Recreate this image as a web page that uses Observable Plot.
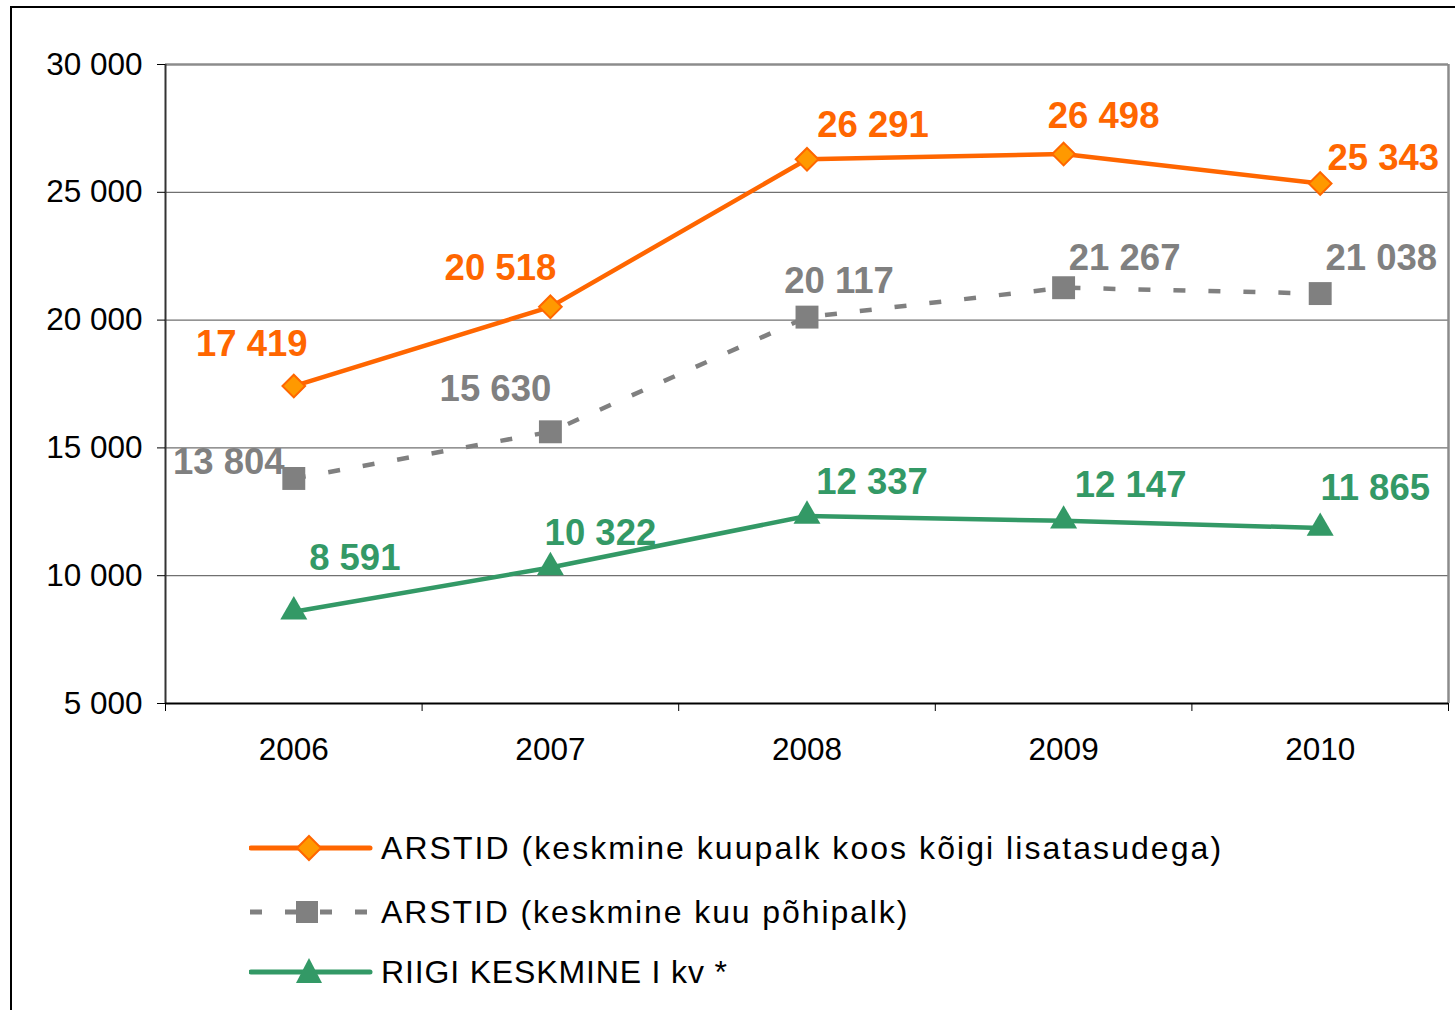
<!DOCTYPE html>
<html>
<head>
<meta charset="utf-8">
<script src="https://cdn.jsdelivr.net/npm/d3@7"></script>
<script src="https://cdn.jsdelivr.net/npm/@observablehq/plot@0.6"></script>
<style>
  html, body { margin: 0; padding: 0; background: #fff; overflow: hidden; }
  body { width: 1455px; height: 1010px; position: relative; font-family: "Liberation Sans", Arial, sans-serif; }
  #frame { position: absolute; left: 10px; top: 6px; width: 1600px; height: 1200px; border-left: 2px solid #000; border-top: 2px solid #000; }
  #chart { position: absolute; left: 0; top: 0; }
  .leg { position: absolute; left: 249px; height: 40px; display: flex; align-items: center; }
  .leg span { font-size: 32px; color: #000; margin-left: 8px; white-space: nowrap; }
</style>
</head>
<body>
<div id="frame"></div>
<div id="chart"></div>
<div id="legend"></div>
<script>
const years = [2006, 2007, 2008, 2009, 2010];
const arstidTotal = [17419, 20518, 26291, 26498, 25343];
const arstidBase = [13804, 15630, 20117, 21267, 21038];
const riigiKeskmine = [8591, 10322, 12337, 12147, 11865];
const seriesNames = [
  "ARSTID (keskmine kuupalk koos kõigi lisatasudega)",
  "ARSTID (keskmine kuu põhipalk)",
  "RIIGI KESKMINE I kv *"
];
const yTicks = [5000, 10000, 15000, 20000, 25000, 30000];

// styling / label placement (not data)
const colors = { total: "#ff6600", totalFill: "#ff9900", base: "#808080", riik: "#339966" };
const labelOffsets = {
  total: [[-42, -42], [-50, -39], [66, -34], [40, -38], [63, -25]],
  base:  [[-65, -16], [-55, -42], [32, -36], [61, -29], [61, -35]],
  riik:  [[61, -53], [50, -34], [65, -34], [67, -36], [55, -40]]
};

const fmt = v => d3.format(",")(v).replace(/,/g, " ");
const mk = vals => years.map((y, i) => ({ year: y, value: vals[i] }));
const dTotal = mk(arstidTotal), dBase = mk(arstidBase), dRiik = mk(riigiKeskmine);
const bounds = [years[0] - 0.5, ...years.map(y => y + 0.5)];

function labels(data, key, color) {
  return data.map((d, i) => Plot.text([d], {
    x: "year", y: "value", text: dd => fmt(dd.value),
    dx: labelOffsets[key][i][0], dy: labelOffsets[key][i][1],
    fill: color, fontSize: 36.5, fontWeight: "bold", textAnchor: "middle"
  }));
}

const chart = Plot.plot({
  width: 1455, height: 790,
  marginTop: 64, marginLeft: 165, marginRight: 7, marginBottom: 87,
  style: { fontFamily: "Liberation Sans, Arial, sans-serif", background: "transparent" },
  x: { type: "linear", domain: [bounds[0], bounds[bounds.length - 1]] },
  y: { domain: [5000, 30000] },
  marks: [
    Plot.ruleY(yTicks.slice(1, -1), { stroke: "#707070", strokeWidth: 1.3 }),
    Plot.ruleY([30000], { stroke: "#8c8c8c", strokeWidth: 2.5 }),
    Plot.ruleX([bounds[bounds.length - 1]], { stroke: "#8c8c8c", strokeWidth: 2.5 }),
    Plot.ruleX([bounds[0]], { stroke: "#333", strokeWidth: 2 }),
    Plot.ruleY([5000], { stroke: "#000", strokeWidth: 2 }),
    Plot.axisY({ ticks: yTicks, tickSize: 8, tickPadding: 15, tickFormat: fmt, fontSize: 31.5, label: null, stroke: "#000", fill: "#000" }),
    Plot.axisX({ ticks: bounds, tickSize: 8, tickFormat: () => "", label: null, stroke: "#000" }),
    Plot.axisX({ ticks: years, tickSize: 0, tickPadding: 34, tickFormat: d => String(d), fontSize: 31.5, label: null, fill: "#000" }),
    Plot.line(dTotal, { x: "year", y: "value", stroke: colors.total, strokeWidth: 4.5 }),
    Plot.dot(dTotal, { x: "year", y: "value", symbol: "diamond2", r: 10.2, fill: colors.totalFill, stroke: colors.total, strokeWidth: 2 }),
    Plot.line(dBase, { x: "year", y: "value", stroke: colors.base, strokeWidth: 4.5, strokeDasharray: "12,23", strokeLinecap: "butt" }),
    Plot.dot(dBase, { x: "year", y: "value", symbol: "square2", r: 14.6, fill: colors.base, stroke: "none" }),
    Plot.line(dRiik, { x: "year", y: "value", stroke: colors.riik, strokeWidth: 4.5 }),
    Plot.dot(dRiik, { x: "year", y: "value", symbol: "triangle2", r: 12.9, fill: colors.riik, stroke: "none" }),
    ...labels(dTotal, "total", colors.total),
    ...labels(dBase, "base", colors.base),
    ...labels(dRiik, "riik", colors.riik)
  ]
});
document.getElementById("chart").appendChild(chart);

// Legend (HTML below the SVG)
const legendRows = [
  { name: seriesNames[0], top: 828, ls: 2.05, svg: `<line x1="2" y1="20" x2="121" y2="20" stroke="${colors.total}" stroke-width="5" stroke-linecap="round"/><path d="M60,8 L72,20 L60,32 L48,20 Z" fill="${colors.totalFill}" stroke="${colors.total}" stroke-width="2"/>` },
  { name: seriesNames[1], top: 892, ls: 1.9, svg: `<line x1="1" y1="20" x2="123" y2="20" stroke="${colors.base}" stroke-width="5" stroke-dasharray="12,23"/><rect x="47" y="9" width="22" height="22" fill="${colors.base}"/>` },
  { name: seriesNames[2], top: 952, ls: 0.85, svg: `<line x1="2" y1="20" x2="121" y2="20" stroke="${colors.riik}" stroke-width="5" stroke-linecap="round"/><path d="M60,6 L73,31 L47,31 Z" fill="${colors.riik}"/>` }
];
const legend = document.getElementById("legend");
legendRows.forEach(r => {
  const div = document.createElement("div");
  div.className = "leg";
  div.style.top = r.top + "px";
  div.innerHTML = `<svg width="124" height="40">${r.svg}</svg><span style="letter-spacing:${r.ls}px">${r.name}</span>`;
  legend.appendChild(div);
});
</script>
</body>
</html>
